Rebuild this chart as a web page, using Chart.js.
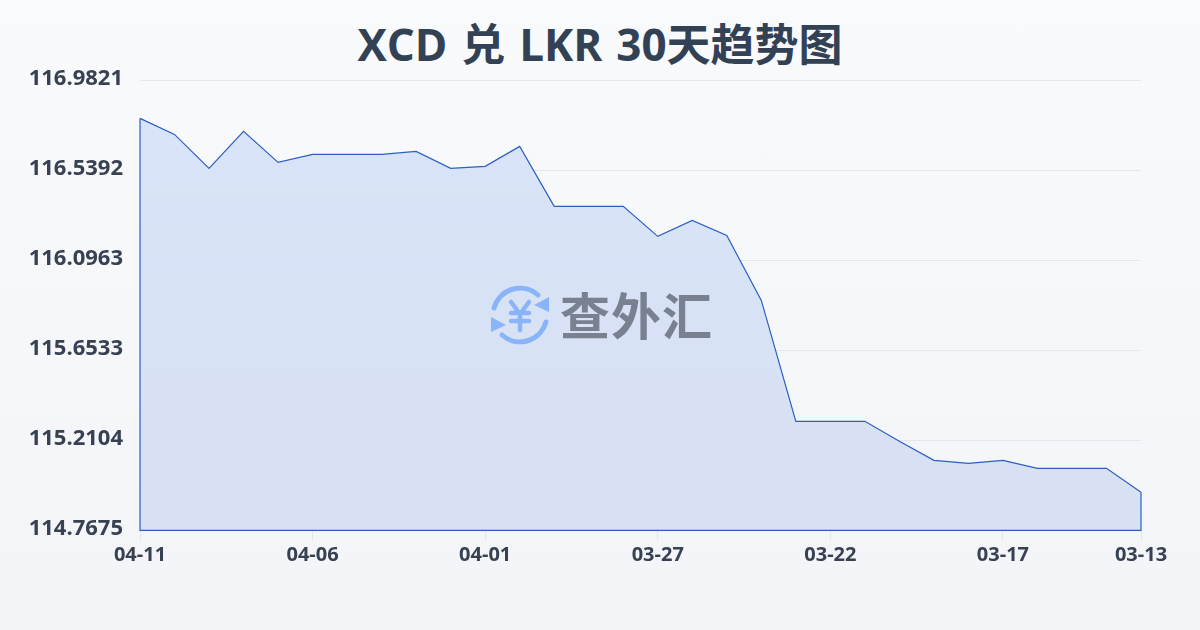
<!DOCTYPE html>
<html><head><meta charset="utf-8">
<style>
html,body{margin:0;padding:0;width:1200px;height:630px;overflow:hidden;}
body{background:linear-gradient(180deg,#f8fafc 0%,#f2f4f7 100%);position:relative;font-family:"Open Sans","Noto Sans CJK SC",sans-serif;}
#title{position:absolute;left:0;right:0;top:14px;text-align:center;font-size:44px;line-height:60px;font-weight:700;color:#334155;word-spacing:2.5px;}
#wrap{position:absolute;left:0;top:0;width:1200px;height:630px;}
#mark{position:absolute;left:489px;top:284px;width:62px;height:62px;}
#wm{position:absolute;left:560px;top:277px;font-family:"Noto Sans CJK SC",sans-serif;font-size:50px;line-height:72px;font-weight:700;color:#798190;white-space:nowrap;letter-spacing:1px;}
</style></head><body>
<div id="title">XCD 兑 LKR 30天趋势图</div>
<div id="wrap"><canvas id="c" width="1200" height="630"></canvas></div>
<svg id="mark" viewBox="0 0 62 62" fill="none">
<path d="M5 24 A27 27 0 0 1 49 11" stroke="#8ab4f8" stroke-width="5" stroke-linecap="round"/>
<path d="M60 13 L60 28 L45 21 Z" fill="#8ab4f8"/>
<path d="M57 38 A27 27 0 0 1 13 51" stroke="#8ab4f8" stroke-width="5" stroke-linecap="round"/>
<path d="M2 33 L2 48 L17 41 Z" fill="#8ab4f8"/>
<path d="M22 18 L31 30 L40 18 M31 30 V46 M22 29 H40 M22 37 H40" stroke="#8ab4f8" stroke-width="4.5" stroke-linecap="round" stroke-linejoin="round"/>
</svg>
<div id="wm">查外汇</div>
<script src="https://cdn.jsdelivr.net/npm/chart.js@4/dist/chart.umd.min.js"></script>
<script>
const categories=["04-11","04-10","04-09","04-08","04-07","04-06","04-05","04-04","04-03","04-02","04-01","03-31","03-30","03-29","03-28","03-27","03-26","03-25","03-24","03-23","03-22","03-21","03-20","03-19","03-18","03-17","03-16","03-15","03-14","03-13"];
const rates=[116.7951,116.7164,116.5491,116.7311,116.5786,116.6180,116.6180,116.6180,116.6328,116.5491,116.5590,116.6574,116.3621,116.3621,116.3621,116.2145,116.2932,116.2194,115.8996,115.3042,115.3042,115.3042,115.2058,115.1123,115.0975,115.1123,115.0729,115.0729,115.0729,114.9548];
const yTicks=[116.9821,116.5392,116.0963,115.6533,115.2104,114.7675];
const xTickLabels=["04-11","04-06","04-01","03-27","03-22","03-17","03-13"];
const edgePlugin={id:'edge',afterDatasetsDraw(ch){
  const m=ch.getDatasetMeta(0).data,b=ch.scales.y.bottom,g=ch.ctx;
  g.save();g.strokeStyle='#2b5fc4';g.lineWidth=1.2;g.beginPath();
  g.moveTo(m[0].x,m[0].y);g.lineTo(m[0].x,b);g.lineTo(m[m.length-1].x,b);g.lineTo(m[m.length-1].x,m[m.length-1].y);g.stroke();g.restore();
}};
const font={family:'"Open Sans","Noto Sans CJK SC",sans-serif',weight:'700'};
new Chart(document.getElementById('c'),{
 type:'line',
 data:{labels:categories,datasets:[{data:rates,borderColor:'#2b5fc4',borderWidth:1.2,pointRadius:0,tension:0,fill:'start',
   backgroundColor(ctx){const a=ctx.chart.chartArea;if(!a)return 'rgba(37,99,235,0.15)';const l=ctx.chart.ctx.createLinearGradient(0,a.top,0,a.bottom);l.addColorStop(0,'#d8e4f8');l.addColorStop(1,'#d8e0f3');return l;}}]},
 plugins:[edgePlugin],
 options:{responsive:false,animation:false,
  layout:{padding:{left:0,right:59,top:80.4,bottom:0}},
  plugins:{legend:{display:false},title:{display:false},tooltip:{enabled:false}},
  scales:{
   x:{type:'category',offset:false,
     afterBuildTicks(ax){ax.ticks=ax.ticks.filter(t=>xTickLabels.includes(categories[t.value]));},
     afterFit(ax){ax.height=99.6;},
     grid:{drawOnChartArea:false,drawTicks:true,tickLength:10,color:'#e3e6ec'},border:{display:false},
     ticks:{autoSkip:false,maxRotation:0,minRotation:0,padding:3,color:'#374151',font:{...font,size:20}}},
   y:{type:'linear',min:114.7675,max:116.9821,
     afterBuildTicks(ax){ax.ticks=yTicks.map(v=>({value:v}));},
     afterFit(ax){ax.width=140;},
     grid:{drawTicks:false,color:'#e3e7ef',lineWidth:1},border:{display:false},
     ticks:{padding:17,color:'#374151',font:{...font,size:22,lineHeight:'3px'},callback:v=>[v.toFixed(4),'']}}
  }}
});
</script>
</body></html>
